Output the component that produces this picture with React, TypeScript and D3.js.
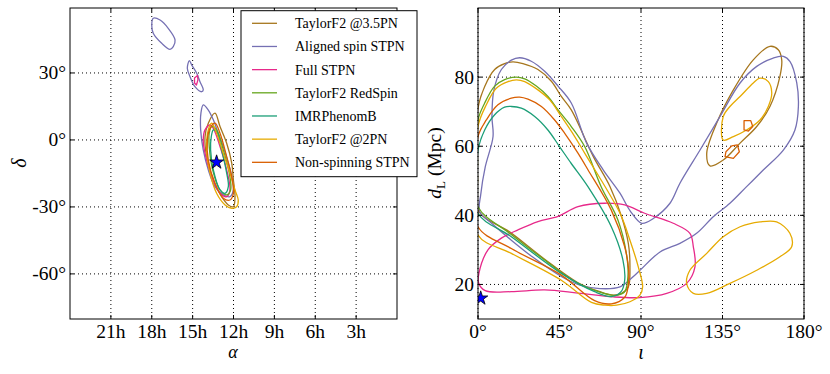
import React from "react";
import * as d3 from "d3";

type P = [number, number];

// ---------- legend / series ----------
const seriesNames = [
  "TaylorF2 @3.5PN",
  "Aligned spin STPN",
  "Full STPN",
  "TaylorF2 RedSpin",
  "IMRPhenomB",
  "TaylorF2 @2PN",
  "Non-spinning STPN",
];
const seriesColors = ["#a6761d", "#7570b3", "#e7298a", "#66a61e", "#1b9e77", "#e6ab02", "#d95f02"];

// ---------- ticks ----------
const raTicks = [21, 18, 15, 12, 9, 6, 3];
const decTicks = [30, 0, -30, -60];
const incTicks = [0, 45, 90, 135, 180];
const distTicks = [20, 40, 60, 80];

// ---------- injected values ----------
const skyStar: P = [13.24, -10];
const incStar: P = [1.5, 16];

// ---------- sky contours (alpha in hours, delta in degrees) ----------
const skyTaylorF235: P[][] = [[
  [13.36, 12], [12.99, 6], [12.5, -1.5], [12.13, -10.4], [12.01, -17.9], [11.89, -25.4], [12.01, -29.9],
  [12.38, -29.1], [12.87, -25.4], [13.48, -17.9], [13.97, -7.5], [14.09, 1.5], [13.85, 7.5],
]];
const skyAligned: P[][] = [
  [[17.89, 54.5], [17.39, 53.7], [16.79, 50], [16.29, 44.8], [16.42, 41.8], [16.66, 40.6], [17.27, 43.3], [17.89, 47.8], [18.0, 51.5]],
  [[15.24, 35.5], [15.07, 33.6], [14.7, 29.9], [14.46, 26.1], [14.22, 22.4], [14.34, 21.6], [14.83, 23.9], [15.19, 28.3], [15.39, 32.1]],
  [[14.22, 15.7], [13.85, 13.4], [13.48, 9], [13.12, 3], [12.75, -3], [12.38, -10.4], [12.13, -16.4], [12.01, -22.4],
   [12.26, -25.4], [12.75, -24.6], [13.36, -20.9], [13.85, -13.4], [14.22, -4.5], [14.41, 4.5], [14.39, 12]],
];
const skyFull: P[][] = [
  [[14.64, 28.9], [14.61, 26.9], [14.72, 24.6], [14.86, 25.5], [14.86, 27.8]],
  [[14.09, 4.5], [13.72, 6.7], [13.48, 5.2], [12.99, -3], [12.5, -13.4], [12.26, -22.4], [12.5, -25.4], [12.99, -23.9],
   [13.6, -16.4], [14.09, -6], [14.22, 0]],
];
const skyRedSpin: P[][] = [[
  [13.6, 6], [13.24, 4.5], [12.75, -4.5], [12.31, -14.9], [12.21, -22.4], [12.5, -24.6], [12.99, -22.4],
  [13.53, -13.4], [13.78, -3], [13.78, 3],
]];
const skyIMR: P[][] = [[
  [13.48, 4.5], [13.24, 3.7], [12.87, -4.5], [12.5, -14.9], [12.38, -20.9], [12.62, -23.9], [12.99, -22.4],
  [13.48, -13.4], [13.68, -4.5], [13.63, 1.5],
]];
const skyTaylorF22: P[][] = [[
  [13.6, 7.5], [13.24, 3], [12.75, -6], [12.26, -14.9], [11.89, -22.4], [11.65, -26.9], [11.77, -29.9],
  [12.13, -30.6], [12.62, -29.1], [13.24, -23.9], [13.72, -14.9], [13.97, -4.5], [13.85, 4.5],
]];
const skyNonSpin: P[][] = [[
  [13.72, 5.2], [13.36, 7.5], [12.99, 3], [12.5, -7.5], [12.13, -16.4], [12.01, -23.9], [12.26, -26.9],
  [12.75, -26.1], [13.36, -19.4], [13.85, -9], [13.92, 0],
]];

// ---------- inclination / distance contours (iota deg, dL Mpc) ----------
const incTaylorF235: P[][] = [
  [[0, 71], [3.7, 77.3], [9.2, 82.2], [14.7, 83.9], [19.3, 84.4], [24.8, 83.9], [33.1, 82.2], [40.5, 78.8], [46, 74.4],
   [51.5, 70.5], [63.7, 57], [72.9, 48.3], [79.3, 39.6], [83, 31.9], [83.9, 25.1], [83, 19.3], [79.3, 17.4],
   [74.7, 16.9], [67.3, 17.9], [55.2, 20.5], [36.8, 27.3], [18, 35], [0, 41.5], [-0.3, 55]],
  [[128.1, 54.3], [126.3, 58], [131.8, 66.7], [141, 76.3], [152, 85], [161.2, 88.9], [165.8, 87.9], [167.7, 85],
   [166.7, 80.2], [161.2, 71.5], [153.9, 65.7], [144.7, 60.9], [135.4, 56]],
];
const incAligned: P[][] = [[
  [8.3, 62.8], [7.7, 68.6], [8.8, 76.3], [12.9, 82.2], [18.4, 84.9], [23, 85.6], [29.4, 84.6], [36.8, 81.7],
  [44.2, 77.4], [51.5, 72.5], [60, 60.9], [69.2, 53.1], [78.4, 46.4], [84, 41.3], [90.4, 37.7], [96.8, 39.1],
  [106, 43.5], [111.5, 49.3], [122.6, 58.9], [133.6, 68.6], [144.7, 78.3], [153.9, 83.1], [163, 85.5],
  [168.6, 86], [172.3, 84.5], [176, 78.3], [176.9, 71.5], [175, 64.7], [168.6, 58.9], [157.5, 53.1],
  [148.3, 48.3], [139.1, 43.5], [129.9, 39.6], [120.7, 34.8], [111.5, 31.9], [100.5, 29.4], [87.6, 23.2],
  [78.4, 19.3], [67.4, 18.8], [56.3, 19.8], [46, 22.3], [30, 28], [18.4, 32.8], [8, 37.5], [1, 41],
  [1.5, 46], [4, 54],
]];
const incFull: P[][] = [[
  [0.5, 23.2], [5.5, 30], [12.9, 33.4], [22.1, 35.8], [33.1, 38.2], [44.2, 39.7], [55.2, 42.5], [69.9, 43.5],
  [81, 43], [92, 40.6], [107.8, 37.7], [117, 34.8], [118.9, 30.9], [119.8, 25.1], [115.2, 20.3], [104.2, 17.4],
  [89.4, 16.2], [74.7, 16.4], [55.2, 17.5], [36.8, 18.4], [18.4, 17.9], [4, 18.2], [0.3, 20.5],
]];
const incRedSpin: P[][] = [[
  [0, 67.6], [3.7, 72.5], [9.2, 77.4], [14.7, 79.3], [21.2, 80.0], [25.8, 79.5], [32.2, 77.4], [38.6, 74.4],
  [44.2, 70.5], [51.5, 65.7], [58.9, 59.9], [68, 48.3], [77.3, 38.6], [81.9, 29], [82.8, 22.3], [81, 17.9],
  [77.3, 16.9], [73.6, 16.9], [55.2, 20.3], [36.8, 27.1], [18, 34.6], [0, 42.5], [-0.3, 55],
]];
const incIMR: P[][] = [[
  [0, 58.9], [3.7, 64.7], [9.2, 69.1], [14.7, 71.3], [18.4, 71.5], [23.9, 71.0], [31.3, 68.6], [38.6, 64.7],
  [45, 59.9], [51.5, 55.0], [60.7, 48.3], [73.6, 36.7], [80, 27.1], [81, 21.3], [79, 17.9], [73.6, 16.5],
  [64.4, 17.9], [46, 23.2], [18.4, 33.8], [0, 40.6], [-0.3, 50],
]];
const incTaylorF22: P[][] = [
  [[0, 65.7], [4.6, 72], [10.1, 76.8], [16.6, 78.7], [21.2, 79.2], [25.8, 78.7], [33.1, 76.3], [39.6, 73.4],
   [46, 68.6], [53.4, 62.8], [58.9, 58], [78.4, 40.6], [83.9, 32.8], [88.5, 25.1], [90.9, 19.3], [89.4, 16.9],
   [83.9, 15], [76.5, 14], [70.1, 14], [62.6, 14.8], [46, 21.2], [18.4, 29], [0, 34.3], [-0.3, 50]],
  [[135.4, 61.8], [135.4, 68.6], [139.1, 71.5], [144.7, 74.4], [152, 78.3], [155.7, 79.7], [160.3, 78.7],
   [162.2, 75.4], [160.3, 71.5], [155.7, 67.6], [148.3, 64.7], [141, 62.8]],
  [[115.2, 20.3], [117, 24.1], [126.3, 29], [135.4, 33.8], [144.7, 36.7], [155.7, 38.1], [164.9, 38.1],
   [172.2, 34.8], [173.2, 30.9], [166.7, 28], [153.9, 24.1], [139.1, 20.3], [126.3, 17.4], [118.9, 17.4]],
];
const incNonSpin: P[][] = [
  [[0, 62.8], [4.6, 67.6], [11, 72], [18.4, 73.9], [23, 74.2], [27.6, 73.6], [35, 71.5], [42.3, 67.6],
   [47.8, 63.8], [55.2, 58], [60.7, 53.2], [73.6, 41.5], [81, 30.9], [83.2, 24.1], [82.8, 19.2], [81, 16.3],
   [73.6, 14.4], [64.4, 15.3], [46, 22.7], [18.4, 30.4], [0, 36.7], [-0.3, 50]],
  [[146.9, 67.4], [150.6, 67.4], [151.7, 65.7], [149.3, 64.4], [146.9, 64.7]],
  [[140.1, 60.1], [143.2, 60.4], [144.3, 58.4], [141, 56.5], [136.4, 57], [136.9, 58.4]],
];

const skySets = [skyTaylorF235, skyAligned, skyFull, skyRedSpin, skyIMR, skyTaylorF22, skyNonSpin];
const incSets = [incTaylorF235, incAligned, incFull, incRedSpin, incIMR, incTaylorF22, incNonSpin];

const FONT = "'Liberation Serif', 'DejaVu Serif', serif";
const W = 830;
const H = 374;
const L = { x0: 70, x1: 397, y0: 8, y1: 319 };
const R = { x0: 478, x1: 804, y0: 8, y1: 319 };

const xL = d3.scaleLinear().domain([24, 0]).range([L.x0, L.x1]);
const yL = d3.scaleLinear().domain([-80.2, 59.1]).range([L.y1, L.y0]);
const xR = d3.scaleLinear().domain([0, 180]).range([R.x0, R.x1]);
const yR = d3.scaleLinear().domain([10, 100]).range([R.y1, R.y0]);

const TICK_FS = 19.5;

function Panel(props: {
  id: string;
  box: { x0: number; x1: number; y0: number; y1: number };
  xs: d3.ScaleLinear<number, number>;
  ys: d3.ScaleLinear<number, number>;
  xt: number[];
  yt: number[];
  xfmt: (v: number) => string;
  yfmt: (v: number) => string;
  sets: P[][][];
  star: P;
}) {
  const { id, box, xs, ys, xt, yt, xfmt, yfmt, sets, star } = props;
  const smooth = d3.line<P>().x((d) => xs(d[0])).y((d) => ys(d[1])).curve(d3.curveCatmullRomClosed.alpha(0.5));
  const lin = d3.line<P>().x((d) => xs(d[0])).y((d) => ys(d[1])).curve(d3.curveLinearClosed);
  const starPath = d3.symbol().type(d3.symbolStar).size(62)();
  return (
    <g>
      <defs>
        <clipPath id={id}>
          <rect x={box.x0} y={box.y0} width={box.x1 - box.x0} height={box.y1 - box.y0} />
        </clipPath>
      </defs>
      {xt.map((t) => (
        <line key={"gx" + t} x1={xs(t)} x2={xs(t)} y1={box.y0} y2={box.y1} stroke="#000" strokeWidth={1} strokeDasharray="1,3" />
      ))}
      {yt.map((t) => (
        <line key={"gy" + t} x1={box.x0} x2={box.x1} y1={ys(t)} y2={ys(t)} stroke="#000" strokeWidth={1} strokeDasharray="1,3" />
      ))}
      <g clipPath={`url(#${id})`}>
        {sets.map((set, i) =>
          set.map((poly, j) => (
            <path
              key={i + "-" + j}
              d={(poly.length <= 6 ? lin(poly) : smooth(poly)) || ""}
              fill="none"
              stroke={seriesColors[i]}
              strokeWidth={1.3}
              strokeLinejoin="round"
            />
          ))
        )}
        <path d={starPath || ""} transform={`translate(${xs(star[0])},${ys(star[1])})`} fill="#0000ff" stroke="#000" strokeWidth={0.8} />
      </g>
      {xt.map((t) => (
        <g key={"tx" + t}>
          <line x1={xs(t)} x2={xs(t)} y1={box.y1} y2={box.y1 - 4} stroke="#000" />
          <line x1={xs(t)} x2={xs(t)} y1={box.y0} y2={box.y0 + 4} stroke="#000" />
          <text x={xs(t)} y={box.y1 + 18.5} textAnchor="middle" fontFamily={FONT} fontSize={TICK_FS}>
            {xfmt(t)}
          </text>
        </g>
      ))}
      {yt.map((t) => (
        <g key={"ty" + t}>
          <line x1={box.x0} x2={box.x0 + 4} y1={ys(t)} y2={ys(t)} stroke="#000" />
          <line x1={box.x1} x2={box.x1 - 4} y1={ys(t)} y2={ys(t)} stroke="#000" />
          <text x={box.x0 - 4} y={ys(t) + 6.5} textAnchor="end" fontFamily={FONT} fontSize={TICK_FS}>
            {yfmt(t)}
          </text>
        </g>
      ))}
      <rect x={box.x0} y={box.y0} width={box.x1 - box.x0} height={box.y1 - box.y0} fill="none" stroke="#000" strokeWidth={1} />
    </g>
  );
}

export default function App() {
  const rowY = (i: number) => 23.3 + i * 23.17;
  return (
    <svg width={W} height={H} style={{ position: "absolute", left: 0, top: 0, background: "#fff" }}>
      <rect x={0} y={0} width={W} height={H} fill="#fff" />
      <Panel
        id="clipL"
        box={L}
        xs={xL}
        ys={yL}
        xt={raTicks}
        yt={decTicks}
        xfmt={(v) => `${v}h`}
        yfmt={(v) => `${v}°`}
        sets={skySets}
        star={skyStar}
      />
      <Panel
        id="clipR"
        box={R}
        xs={xR}
        ys={yR}
        xt={incTicks}
        yt={distTicks}
        xfmt={(v) => `${v}°`}
        yfmt={(v) => `${v}`}
        sets={incSets}
        star={incStar}
      />
      {/* axis labels */}
      <text x={233} y={357.5} textAnchor="middle" fontFamily={FONT} fontStyle="italic" fontSize={18}>α</text>
      <text x={641} y={359} textAnchor="middle" fontFamily={FONT} fontStyle="italic" fontSize={20}>ι</text>
      <text transform="translate(26,163) rotate(-90)" textAnchor="middle" fontFamily={FONT} fontStyle="italic" fontSize={20}>δ</text>
      <text transform="translate(441,163) rotate(-90)" textAnchor="middle" fontFamily={FONT} fontSize={19.5}>
        <tspan fontStyle="italic">d</tspan>
        <tspan fontSize={13} dy={4}>L</tspan>
        <tspan dy={-4}> (Mpc)</tspan>
      </text>
      {/* legend */}
      <rect x={241} y={10.7} width={176} height={166} fill="#fff" stroke="#000" strokeWidth={1} />
      {seriesNames.map((n, i) => (
        <g key={n}>
          <line x1={252} x2={277} y1={rowY(i)} y2={rowY(i)} stroke={seriesColors[i]} strokeWidth={1.3} />
          <text x={295} y={rowY(i) + 5} fontFamily={FONT} fontSize={14}>
            {n}
          </text>
        </g>
      ))}
    </svg>
  );
}
